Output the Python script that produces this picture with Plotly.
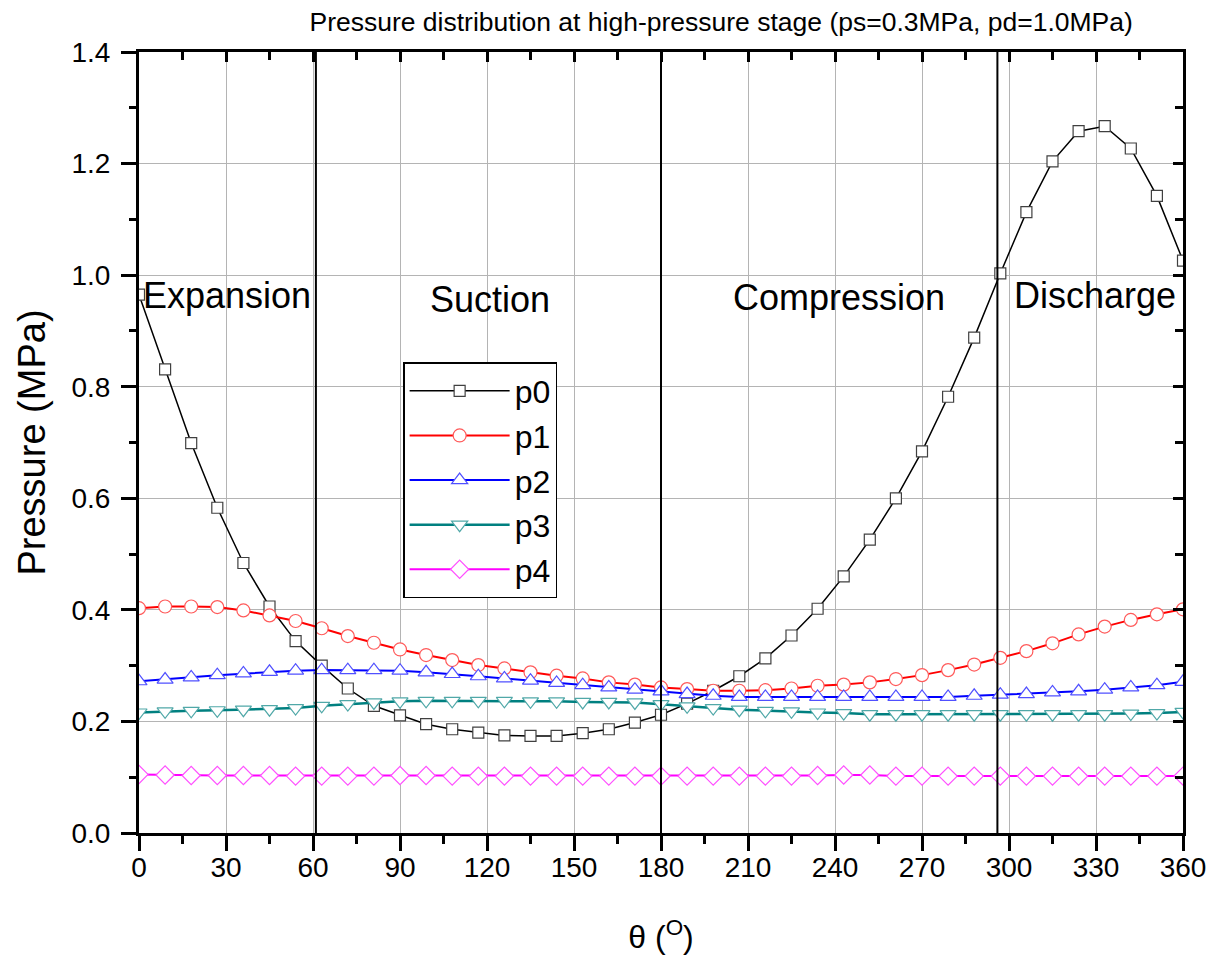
import plotly.graph_objects as go

theta = list(range(0, 361, 9))

p0 = [0.965, 0.831, 0.699, 0.583, 0.484, 0.406, 0.344, 0.300, 0.259, 0.228,
      0.211, 0.195, 0.186, 0.180, 0.175, 0.174, 0.174, 0.179, 0.186, 0.198,
      0.212, 0.232, 0.255, 0.281, 0.313, 0.354, 0.402, 0.460, 0.526, 0.600,
      0.684, 0.782, 0.888, 1.003, 1.113, 1.204, 1.258, 1.267, 1.227, 1.142,
      1.026]
p1 = [0.403, 0.406, 0.406, 0.405, 0.399, 0.390, 0.380, 0.367, 0.353, 0.341,
      0.329, 0.319, 0.310, 0.301, 0.295, 0.288, 0.282, 0.277, 0.270, 0.266,
      0.261, 0.258, 0.255, 0.255, 0.256, 0.259, 0.264, 0.266, 0.270, 0.276,
      0.283, 0.292, 0.302, 0.314, 0.326, 0.340, 0.356, 0.370, 0.382, 0.392,
      0.401]
p2 = [0.272, 0.275, 0.279, 0.283, 0.286, 0.289, 0.291, 0.292, 0.292, 0.292,
      0.291, 0.288, 0.285, 0.281, 0.277, 0.273, 0.269, 0.265, 0.261, 0.257,
      0.254, 0.249, 0.246, 0.244, 0.244, 0.244, 0.244, 0.244, 0.244, 0.244,
      0.244, 0.244, 0.246, 0.248, 0.249, 0.252, 0.254, 0.257, 0.261, 0.265,
      0.271]
p3 = [0.216, 0.218, 0.219, 0.220, 0.221, 0.222, 0.224, 0.228, 0.231, 0.234,
      0.236, 0.237, 0.237, 0.237, 0.237, 0.236, 0.236, 0.235, 0.235, 0.234,
      0.231, 0.227, 0.224, 0.221, 0.219, 0.218, 0.216, 0.215, 0.213, 0.213,
      0.213, 0.213, 0.213, 0.213, 0.213, 0.213, 0.213, 0.213, 0.214, 0.215,
      0.217]
p4 = [0.105, 0.104, 0.103, 0.103, 0.103, 0.103, 0.102, 0.102, 0.102, 0.102,
      0.103, 0.103, 0.102, 0.102, 0.102, 0.102, 0.102, 0.102, 0.102, 0.102,
      0.102, 0.102, 0.102, 0.102, 0.102, 0.102, 0.103, 0.104, 0.104, 0.102,
      0.102, 0.102, 0.102, 0.102, 0.102, 0.102, 0.102, 0.102, 0.102, 0.102,
      0.102]

series_names = ["p0", "p1", "p2", "p3", "p4"]
region_bounds = [61, 180, 296]
region_labels = ["Expansion", "Suction", "Compression", "Discharge"]
region_label_x = [30.5, 121, 241.5, 329.5]
region_label_y = [0.963, 0.956, 0.960, 0.963]

title_text = "Pressure distribution at high-pressure stage (ps=0.3MPa, pd=1.0MPa)"
x_title = "\u03b8 (<sup>O</sup>)"
y_title = "Pressure (MPa)"

FONT = "Liberation Sans, Arial, sans-serif"

styles = [
    dict(line_color="black", line_width=1.5, symbol="square", msize=11, mline="#404040"),
    dict(line_color="#ff0000", line_width=2, symbol="circle", msize=13, mline="#ff5a5a"),
    dict(line_color="#0000ff", line_width=2, symbol="triangle-up", msize=14, mline="#5050ff"),
    dict(line_color="#008080", line_width=2.5, symbol="triangle-down", msize=14, mline="#50a8a8"),
    dict(line_color="#ff00ff", line_width=2, symbol="diamond", msize=14, mline="#ff50ff"),
]

fig = go.Figure()
for name, ys, st in zip(series_names, [p0, p1, p2, p3, p4], styles):
    fig.add_trace(go.Scatter(
        x=theta, y=ys, name=name, mode="lines+markers",
        legendgroup=name,
        line=dict(color=st["line_color"], width=st["line_width"]),
        marker=dict(symbol=st["symbol"], size=st["msize"], color="white",
                    line=dict(color=st["mline"], width=1.2)),
    ))

# dummy trace for mirrored (inside-tick) axes
fig.add_trace(go.Scatter(x=[None], y=[None], xaxis="x2", yaxis="y2",
                         showlegend=False, hoverinfo="skip"))

for b in region_bounds:
    fig.add_shape(type="line", x0=b, x1=b, y0=0, y1=1, xref="x", yref="paper",
                  line=dict(color="black", width=2))

for txt, lx, ly in zip(region_labels, region_label_x, region_label_y):
    fig.add_annotation(x=lx, y=ly, xref="x", yref="y", text=txt, showarrow=False,
                       font=dict(family=FONT, size=36, color="black"))

grid = "#b4b4b4"
fig.update_layout(
    width=1210, height=955, autosize=False,
    margin=dict(l=139, r=27, t=52, b=122, autoexpand=False),
    paper_bgcolor="white", plot_bgcolor="white",
    font=dict(family=FONT, color="black"),
    title=dict(text=title_text, x=0.596, xanchor="center", y=0.977, yanchor="middle",
               xref="container", yref="container",
               font=dict(family=FONT, size=26.5, color="black")),
    showlegend=True,
    legend=dict(x=0.253, y=0.603, xanchor="left", yanchor="top",
                bgcolor="white", bordercolor="black", borderwidth=1.5,
                font=dict(family=FONT, size=32, color="black"),
                tracegroupgap=0, itemwidth=100),
    xaxis=dict(range=[0, 360], tick0=0, dtick=30, ticks="outside", ticklen=15,
               tickwidth=2.5, tickcolor="black", automargin=False,
               ticklabelstandoff=-8,
               minor=dict(ticks="outside", dtick=15, ticklen=8, tickwidth=2.5,
                          tickcolor="black", showgrid=False),
               showline=True, linewidth=3, linecolor="black", mirror=True,
               showgrid=True, gridcolor=grid, gridwidth=1, zeroline=False,
               tickfont=dict(family=FONT, size=28, color="black"),
               title=dict(text=x_title, font=dict(family=FONT, size=32, color="black"),
                          standoff=46)),
    yaxis=dict(range=[0, 1.4], tick0=0, dtick=0.2, tickformat=".1f",
               ticks="outside", ticklen=15, tickwidth=2.5, tickcolor="black",
               automargin=False, ticklabelstandoff=5,
               minor=dict(ticks="outside", dtick=0.1, ticklen=7, tickwidth=2.5,
                          tickcolor="black", showgrid=False),
               showline=True, linewidth=3, linecolor="black", mirror=True,
               showgrid=True, gridcolor=grid, gridwidth=1, zeroline=False,
               tickfont=dict(family=FONT, size=28, color="black"),
               title=dict(text=y_title, font=dict(family=FONT, size=38, color="black"),
                          standoff=15)),
    xaxis2=dict(overlaying="x", side="top", anchor="y2", range=[0, 360], tick0=0, dtick=30,
                ticks="inside", ticklen=10, tickwidth=2.5, tickcolor="black",
                automargin=False,
                minor=dict(ticks="inside", dtick=15, ticklen=8, tickwidth=2.5,
                           tickcolor="black"),
                showticklabels=False, showgrid=False, showline=False, zeroline=False),
    yaxis2=dict(overlaying="y", side="right", anchor="x2", range=[0, 1.4], tick0=0, dtick=0.2,
                ticks="inside", ticklen=10, tickwidth=2.5, tickcolor="black",
                automargin=False,
                minor=dict(ticks="inside", dtick=0.1, ticklen=8, tickwidth=2.5,
                           tickcolor="black"),
                showticklabels=False, showgrid=False, showline=False, zeroline=False),
)

fig.write_html("out.html")
